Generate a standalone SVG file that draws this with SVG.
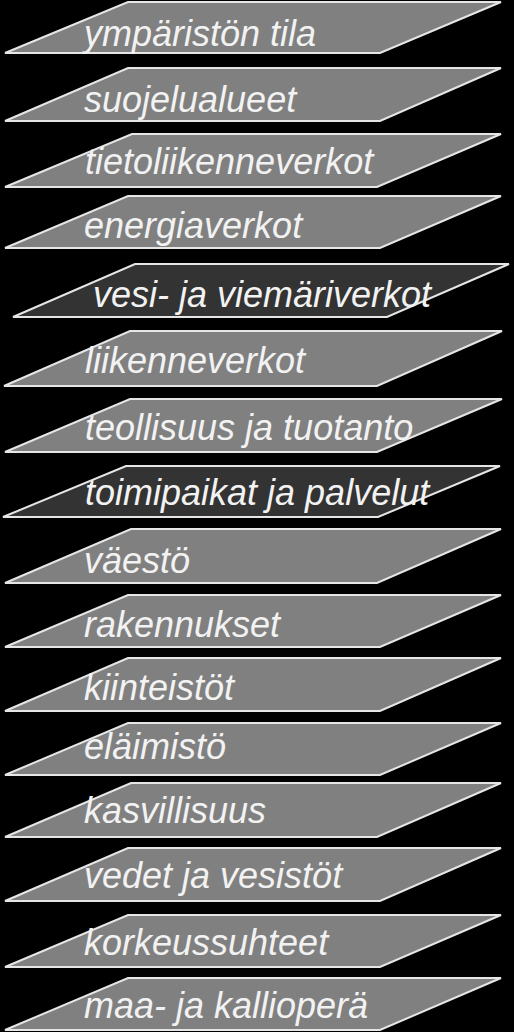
<svg xmlns="http://www.w3.org/2000/svg" width="514" height="1032" viewBox="0 0 514 1032">
<style>
.bg{fill:#000000}
.lay{fill:#808080;stroke:#e6e6e6;stroke-width:2;stroke-linejoin:miter}
.dark{fill:#333333}
.lbl{font-family:"Liberation Sans",Arial,sans-serif;font-style:italic;font-size:36px;fill:#f2f2f2}
</style>
<rect class="bg" x="0" y="0" width="514" height="1032"/>
<g id="layer-ymparisto"><polygon class="lay" points="128,2 501,2 380,53 5,53"/><text class="lbl" x="84" y="46">ympäristön tila</text></g>
<g id="layer-suojelualueet"><polygon class="lay" points="128,68 501,68 380,121 5,121"/><text class="lbl" x="84" y="112">suojelualueet</text></g>
<g id="layer-tietoliikenne"><polygon class="lay" points="132,134 501,134 377,187 5,187"/><text class="lbl" x="85" y="174">tietoliikenneverkot</text></g>
<g id="layer-energia"><polygon class="lay" points="128,196 501,196 380,248 5,248"/><text class="lbl" x="84" y="238">energiaverkot</text></g>
<g id="layer-vesi"><polygon class="lay dark" points="135,264 509,264 387,317 13,317"/><text class="lbl" x="93" y="307">vesi- ja viemäriverkot</text></g>
<g id="layer-liikenne"><polygon class="lay" points="130,331 502,331 377,386 4,386"/><text class="lbl" x="85" y="373">liikenneverkot</text></g>
<g id="layer-teollisuus"><polygon class="lay" points="130,399 502,399 377,452 5,452"/><text class="lbl" x="85" y="440">teollisuus ja tuotanto</text></g>
<g id="layer-toimipaikat"><polygon class="lay dark" points="126,466 500,466 378,517 3,517"/><text class="lbl" x="85" y="505">toimipaikat ja palvelut</text></g>
<g id="layer-vaesto"><polygon class="lay" points="131,529 501,529 377,583 5,583"/><text class="lbl" x="84" y="573">väestö</text></g>
<g id="layer-rakennukset"><polygon class="lay" points="128,595 501,595 380,647 5,647"/><text class="lbl" x="84" y="637">rakennukset</text></g>
<g id="layer-kiinteistot"><polygon class="lay" points="128,658 501,658 380,711 5,711"/><text class="lbl" x="84" y="700">kiinteistöt</text></g>
<g id="layer-elaimisto"><polygon class="lay" points="128,723 501,723 380,775 5,775"/><text class="lbl" x="84" y="759">eläimistö</text></g>
<g id="layer-kasvillisuus"><polygon class="lay" points="131,783 501,783 377,837 5,837"/><text class="lbl" x="84" y="823">kasvillisuus</text></g>
<g id="layer-vedet"><polygon class="lay" points="128,848 501,848 380,901 5,901"/><text class="lbl" x="84" y="888">vedet ja vesistöt</text></g>
<g id="layer-korkeus"><polygon class="lay" points="128,915 501,915 380,967 5,967"/><text class="lbl" x="84" y="955">korkeussuhteet</text></g>
<g id="layer-maaperä"><polygon class="lay" points="128,978 501,978 380,1030 5,1030"/><text class="lbl" x="84" y="1018">maa- ja kallioperä</text></g>
<g id="connectors"></g>
</svg>
